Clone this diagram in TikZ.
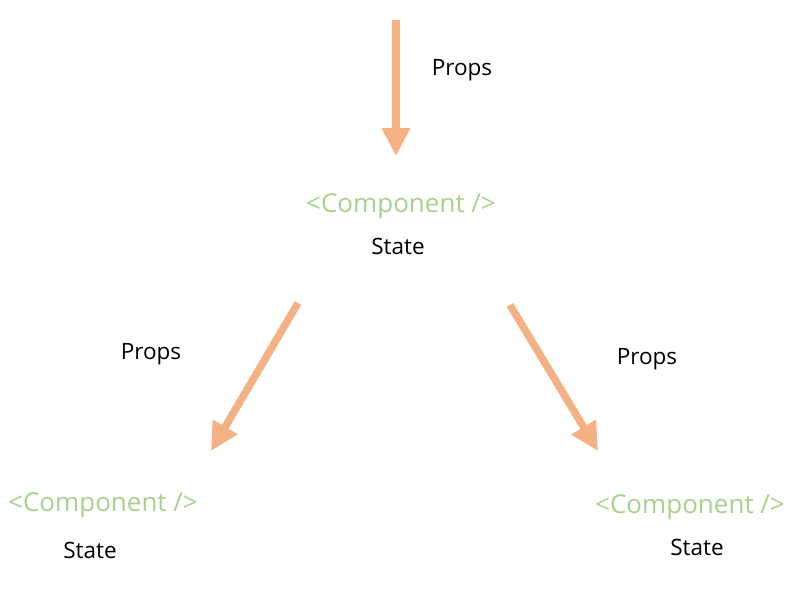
\documentclass[tikz,border=0pt]{standalone}
\usepackage{fontspec}
\setmainfont{Open Sans}
\usetikzlibrary{arrows.meta}
\definecolor{flow}{HTML}{F4B183}
\definecolor{comp}{HTML}{A9D18E}
\begin{document}
\begin{tikzpicture}[x=1pt,y=-1pt,
  propflow/.style={draw=flow,line width=7.5pt,-{Triangle[width=27pt,length=28pt]}},
  compname/.style={text=comp,font=\fontsize{26}{30}\selectfont,inner sep=0pt},
  statelbl/.style={text=black,font=\fontsize{22.5}{26}\selectfont,inner sep=0pt},
  propslbl/.style={text=black,font=\fontsize{22.5}{26}\selectfont,inner sep=0pt}]
\useasboundingbox[fill=white] (0,0) rectangle (800,592);
% parent component
\node[compname] (top) at (401,206) {<Component />};
\node[statelbl] (topstate) at (398,246) {State};
% children
\node[compname] (left) at (103,505) {<Component />};
\node[statelbl] (leftstate) at (90,550) {State};
\node[compname] (right) at (690,507) {<Component />};
\node[statelbl] (rightstate) at (697,547) {State};
% props flowing down
\coordinate (inS) at (396,20);
\coordinate (inE) at (396,156);
\coordinate (lS) at (298,303);
\coordinate (lE) at (211,451);
\coordinate (rS) at (510,305);
\coordinate (rE) at (598,451);
\draw[propflow] (inS) -- (inE);
\draw[propflow] (lS) -- (lE);
\draw[propflow] (rS) -- (rE);
\node[propslbl] (pin) at (462,70) {Props};
\node[propslbl] (pl) at (151,354) {Props};
\node[propslbl] (pr) at (647,359) {Props};
\end{tikzpicture}
\end{document}
